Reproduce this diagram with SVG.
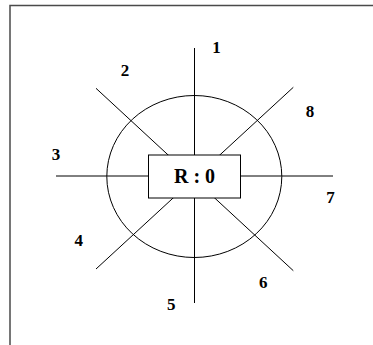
<svg xmlns="http://www.w3.org/2000/svg" width="373" height="345" viewBox="0 0 373 345">
<style>
.ln{stroke:#000;stroke-width:1;fill:none}
.lbl{font-family:"Liberation Serif","Times New Roman",serif;font-weight:bold;font-size:17px;fill:#000;text-anchor:middle}
.main{font-family:"Liberation Serif","Times New Roman",serif;font-weight:bold;font-size:20px;fill:#000;text-anchor:middle}
</style>
<rect width="373" height="345" fill="#fff"/>
<path d="M10,345 V5.5 H373" stroke="#4a4a4a" stroke-width="1.5" fill="none"/>
<g id="connectors">
<line class="ln" x1="194.5" y1="48" x2="194.5" y2="303"/>
<line class="ln" x1="56" y1="176" x2="333" y2="176"/>
<line class="ln" x1="96" y1="88.3" x2="293.3" y2="270.7"/>
<line class="ln" x1="96" y1="269" x2="293.3" y2="87.3"/>
</g>
<g id="circle">
<ellipse class="ln" cx="194.3" cy="176.5" rx="87.5" ry="81"/>
</g>
<g id="center">
<rect x="148.5" y="155" width="92" height="43" fill="#fff" stroke="#000" stroke-width="1"/>
<text class="main" x="194.5" y="183">R : 0</text>
</g>
<g id="labels">
<text id="l1" class="lbl" x="216.5" y="53.3">1</text>
<text id="l2" class="lbl" x="125" y="76">2</text>
<text id="l3" class="lbl" x="56" y="160">3</text>
<text id="l4" class="lbl" x="78.7" y="246">4</text>
<text id="l5" class="lbl" x="171.3" y="310">5</text>
<text id="l6" class="lbl" x="263.3" y="288">6</text>
<text id="l7" class="lbl" x="330.5" y="203">7</text>
<text id="l8" class="lbl" x="310" y="117">8</text>
</g>
</svg>
